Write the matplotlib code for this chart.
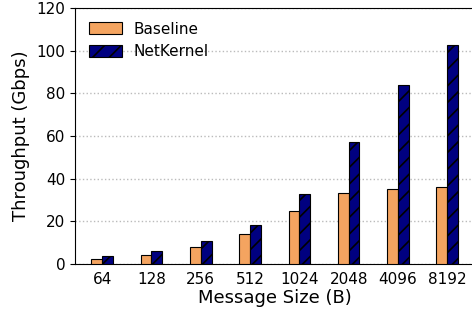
import numpy as np
import matplotlib
matplotlib.use('Agg')
import matplotlib.pyplot as plt

# message sizes and throughput (Gbps)
sizes = ['64', '128', '256', '512', '1024', '2048', '4096', '8192']
baseline = [2.5, 4.4, 7.8, 14.1, 25.0, 33.3, 35.3, 35.9]
netkernel = [3.6, 6.1, 10.6, 18.3, 32.6, 57.3, 84.0, 102.6]

plt.rcParams['hatch.linewidth'] = 1.2
fig = plt.figure(figsize=(4.72, 3.14), dpi=100)
ax = fig.add_axes([0.159, 0.159, 0.846, 0.816])

x = np.arange(len(sizes))
w = 0.22
ax.bar(x - w / 2, baseline, w, color='sandybrown', edgecolor='black',
       linewidth=0.8, label='Baseline', zorder=3)
ax.bar(x + w / 2, netkernel, w, color='navy', edgecolor='black',
       linewidth=0.8, hatch='//', label='NetKernel', zorder=3)

ax.set_xlim(-0.55, 7.55)
ax.set_ylim(0, 120)
ax.set_xticks(x)
ax.set_xticklabels(sizes)
ax.set_yticks([0, 20, 40, 60, 80, 100, 120])
ax.tick_params(axis='x', length=0, labelsize=11, pad=6)
ax.tick_params(axis='y', labelsize=11)
ax.yaxis.grid(True, linestyle=':', color='#bbbbbb', linewidth=1)
ax.spines['right'].set_visible(False)

ax.set_xlabel('Message Size (B)', fontsize=13, labelpad=1)
ax.set_ylabel('Throughput (Gbps)', fontsize=13, labelpad=5)

ax.legend(loc='upper left', frameon=False, fontsize=11,
          bbox_to_anchor=(0.0, 1.0), handlelength=2.15, handleheight=0.8,
          labelspacing=0.5)

fig.savefig('out.png', dpi=100)
